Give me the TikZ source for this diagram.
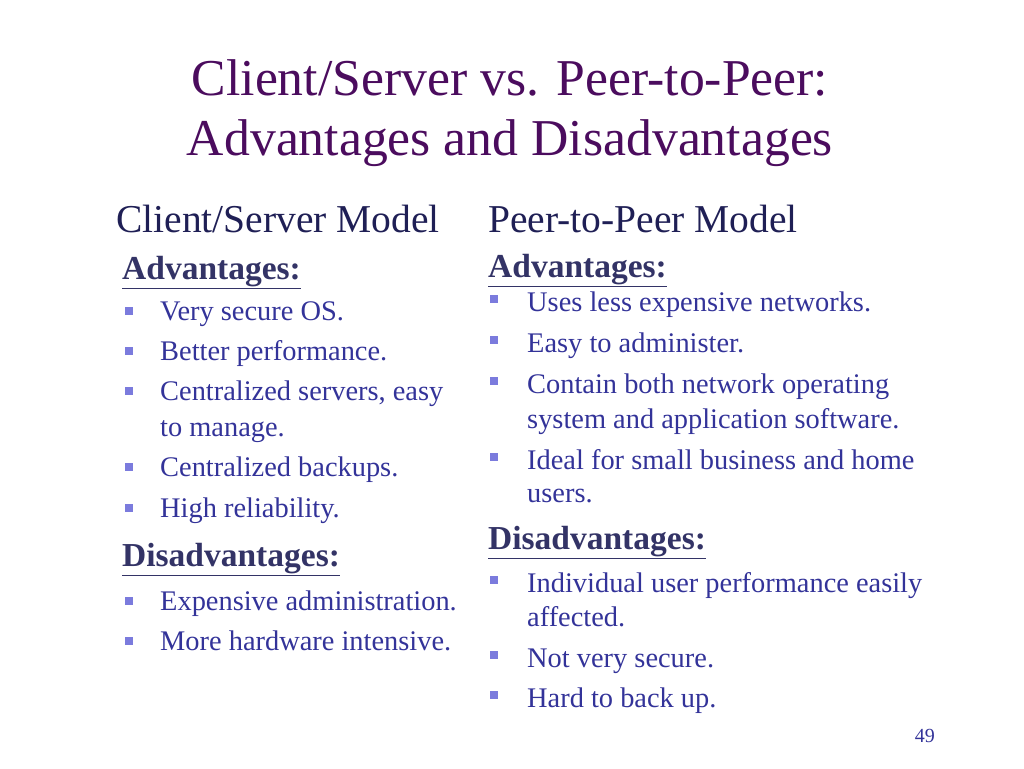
\documentclass[tikz,border=0pt]{standalone}
\usepackage{fontspec}
\setmainfont{Liberation Serif}
\definecolor{ttl}{HTML}{4B0C5E}
\definecolor{hdr}{HTML}{1F1F55}
\definecolor{sub}{HTML}{333366}
\definecolor{body}{HTML}{333399}
\definecolor{bul}{HTML}{7B7BDD}
\begin{document}
\begin{tikzpicture}[x=1pt,y=-1pt,
  ttl/.style={text=ttl,font=\fontsize{51.7}{58}\selectfont,anchor=base,inner sep=0},
  hdr/.style={text=hdr,font=\fontsize{39.5}{44}\selectfont,anchor=base west,inner sep=0},
  sub/.style={text=sub,font=\bfseries\fontsize{33.5}{38}\selectfont,anchor=base west,inner sep=0},
  itm/.style={text=body,font=\fontsize{28.4}{32}\selectfont,anchor=base west,inner sep=0},
  bx/.style={fill=bul,minimum size=8pt,inner sep=0}]
\useasboundingbox (0,0) rectangle (1024,768);
\node[ttl] (t1) at (510,95) {Client/Server vs. Peer-to-Peer:};
\node[ttl] (t2) at (510,155) {Advantages and Disadvantages};
\node[hdr] (h1) at (116,232) {Client/Server Model};
\node[hdr] (h2) at (488,232) {Peer-to-Peer Model};
\node[sub] (la) at (122,279) {\underline{Advantages:}};
\node[sub] (ld) at (122,566) {\underline{Disadvantages:}};
\node[sub] (ra) at (488,277) {\underline{Advantages:}};
\node[sub] (rd) at (488,549) {\underline{Disadvantages:}};
\foreach \y/\t [count=\i] in {320/Very secure OS., 360/Better performance., 400/{Centralized servers, easy}, 476/Centralized backups., 517/High reliability., 610/Expensive administration., 650/More hardware intensive.}{
  \node[bx] (lb\i) at (129,\y-9) {};
  \node[itm] (lt\i) at (160,\y) {\t};
}
\node[itm] (lc) at (160,436) {to manage.};
\foreach \y/\t [count=\i] in {311/Uses less expensive networks., 352/Easy to administer., 393/Contain both network operating, 469/Ideal for small business and home, 592/Individual user performance easily, 667/Not very secure., 707/Hard to back up.}{
  \node[bx] (rb\i) at (494,\y-12) {};
  \node[itm] (rt\i) at (527,\y) {\t};
}
\node[itm] (rc1) at (527,428) {system and application software.};
\node[itm] (rc2) at (527,502) {users.};
\node[itm] (rc3) at (527,626) {affected.};
\node[text=body,font=\fontsize{20}{24}\selectfont,anchor=base east,inner sep=0] (pg) at (935,742) {49};
\end{tikzpicture}
\end{document}
